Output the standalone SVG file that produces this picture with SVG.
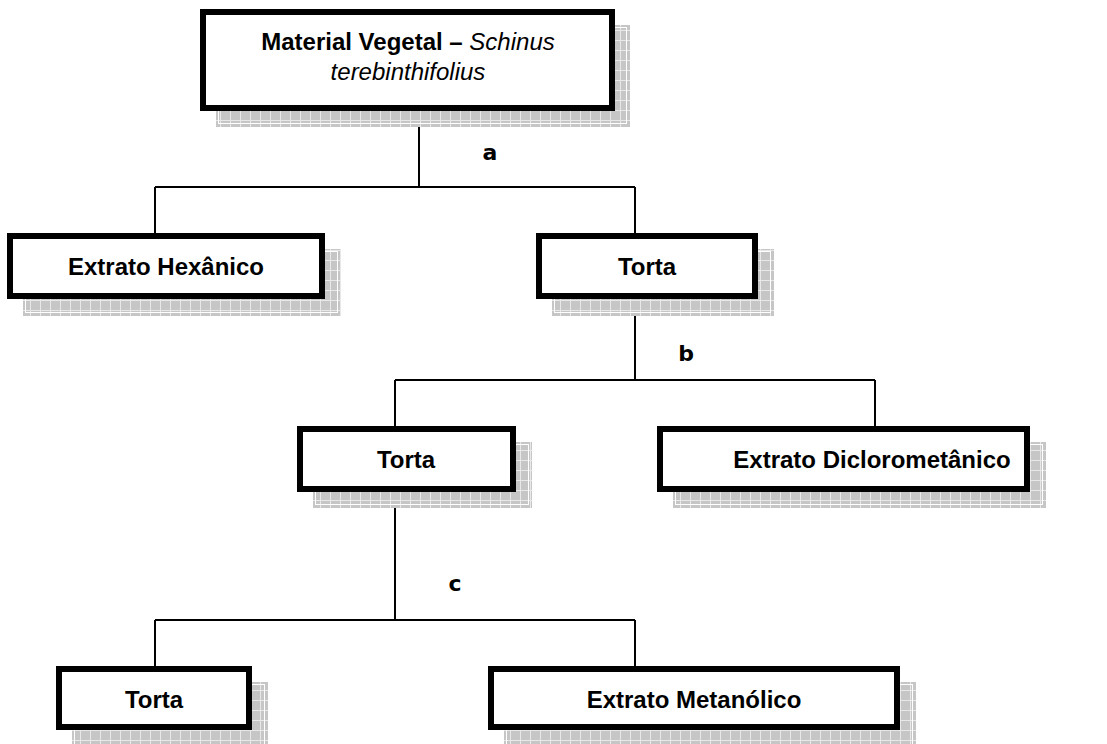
<svg xmlns="http://www.w3.org/2000/svg" width="1107" height="744" viewBox="0 0 1107 744">
  <defs>
    <pattern id="grid" width="10" height="10" patternUnits="userSpaceOnUse">
      <rect width="10" height="10" fill="#c6c6c6"/>
      <path d="M0 0.5H10M0.5 0V10" stroke="#e8e8e8" stroke-width="1" fill="none"/>
    </pattern>
  </defs>
  <style>
    .box{fill:#fff;stroke:#000;stroke-width:6}
    .sh{fill:url(#grid)}
    .shl{fill:none;stroke:#fff;stroke-width:1}
    .t{font-family:"Liberation Sans",Arial,sans-serif;font-weight:bold;font-size:24px;text-anchor:middle;fill:#000}
    .i{font-weight:normal;font-style:italic}
    .lbl{font-family:"DejaVu Sans",Verdana,sans-serif;font-weight:bold;font-size:22px;text-anchor:middle;fill:#000}
    .c{stroke:#000;stroke-width:2;fill:none}
  </style>
  <rect width="1107" height="744" fill="#fff"/>
  <g id="connectors">
    <path class="c" d="M419 111V187M155 187H635M155 187V233M635 187V233"/>
    <path class="c" d="M635 299V380M395 380H875M395 380V426M875 380V426"/>
    <path class="c" d="M395 492V620M155 620H635M155 620V666M635 620V666"/>
    <text class="lbl" x="490" y="160">a</text>
    <text class="lbl" x="686" y="361">b</text>
    <text class="lbl" x="455" y="591">c</text>
  </g>
  <g id="n-material">
    <rect class="sh" x="216" y="25" width="414" height="102"/>
    <rect class="shl" x="218.5" y="27.5" width="408" height="96"/>
    <rect class="box" x="203" y="12" width="409" height="96"/>
    <text class="t" x="408" y="50">Material Vegetal – <tspan class="i">Schinus</tspan></text>
    <text class="t i" x="408" y="80">terebinthifolius</text>
  </g>
  <g id="n-hexanico">
    <rect class="sh" x="23" y="249" width="318" height="67"/>
    <rect class="shl" x="25.5" y="251.5" width="312" height="61"/>
    <rect class="box" x="10" y="236" width="312" height="60"/>
    <text class="t" x="166" y="275">Extrato Hexânico</text>
  </g>
  <g id="n-torta1">
    <rect class="sh" x="552" y="249" width="222" height="67"/>
    <rect class="shl" x="554.5" y="251.5" width="216" height="61"/>
    <rect class="box" x="539" y="236" width="216" height="60"/>
    <text class="t" x="647" y="275">Torta</text>
  </g>
  <g id="n-torta2">
    <rect class="sh" x="313" y="442" width="219" height="66"/>
    <rect class="shl" x="315.5" y="444.5" width="213" height="60"/>
    <rect class="box" x="300" y="429" width="213" height="60"/>
    <text class="t" x="406" y="468">Torta</text>
  </g>
  <g id="n-dicloro">
    <rect class="sh" x="673" y="442" width="373" height="66"/>
    <rect class="shl" x="675.5" y="444.5" width="367" height="60"/>
    <rect class="box" x="660" y="429" width="367" height="60"/>
    <text class="t" x="872" y="468">Extrato Diclorometânico</text>
  </g>
  <g id="n-torta3">
    <rect class="sh" x="72" y="682" width="196" height="66"/>
    <rect class="shl" x="74.5" y="684.5" width="190" height="60"/>
    <rect class="box" x="59" y="669" width="190" height="58"/>
    <text class="t" x="154" y="708">Torta</text>
  </g>
  <g id="n-metanolico">
    <rect class="sh" x="504" y="682" width="412" height="66"/>
    <rect class="shl" x="506.5" y="684.5" width="406" height="60"/>
    <rect class="box" x="491" y="669" width="406" height="58"/>
    <text class="t" x="694" y="708">Extrato Metanólico</text>
  </g>
</svg>
